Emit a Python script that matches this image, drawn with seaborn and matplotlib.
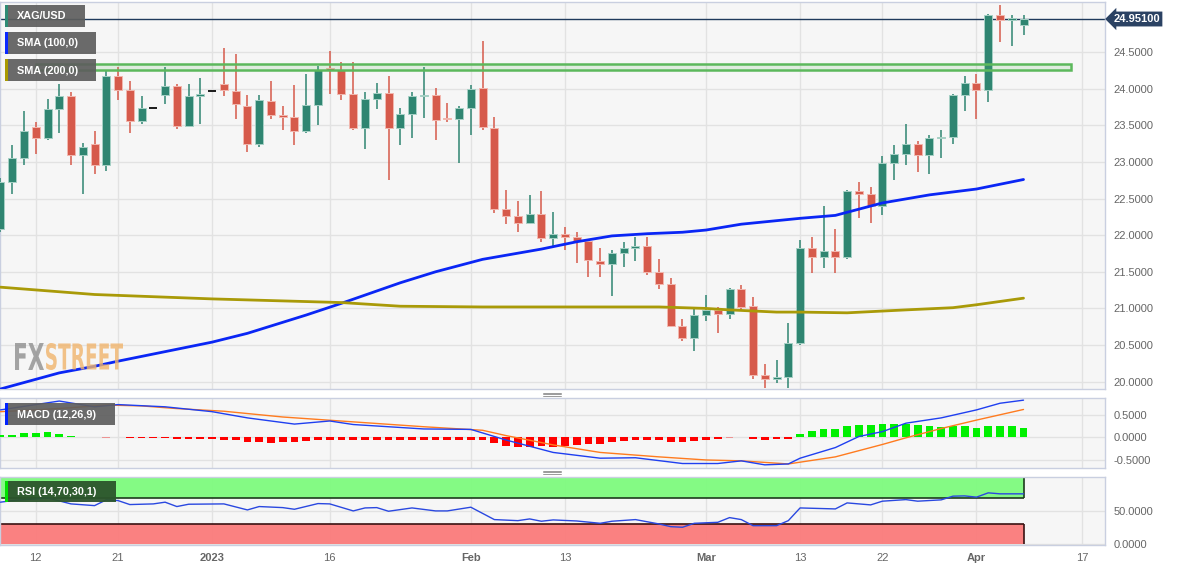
import numpy as np
import pandas as pd
import matplotlib
matplotlib.use("Agg")
import matplotlib.pyplot as plt
import seaborn as sns
from matplotlib.patches import Rectangle, PathPatch
from matplotlib.textpath import TextPath
from matplotlib.font_manager import FontProperties
from matplotlib.transforms import Affine2D, blended_transform_factory
from matplotlib.lines import Line2D

sns.set_theme(style="white")
plt.rcParams['font.family'] = ['Liberation Sans', 'DejaVu Sans']

# ---------------- data (trading-day index, 0 = Dec 12 2022) ----------------
idx = list(range(-3, 85))
opens = [22.09, 22.73, 23.05, 23.48, 23.33, 23.72, 23.90, 23.10, 23.24, 22.96,
         24.17, 23.98, 23.56, 23.73, 23.91, 24.04, 23.49, 23.90, 23.97, 24.07,
         23.97, 23.77, 23.24, 23.83, 23.64, 23.62, 23.42, 23.78, 24.28, 24.25,
         23.93, 23.46, 23.86, 23.94, 23.46, 23.66, 23.90, 23.92, 23.60, 23.58,
         23.74, 24.01, 23.46, 22.36, 22.26, 22.17, 22.29, 21.96, 22.02, 21.98,
         21.92, 21.65, 21.60, 21.76, 21.82, 21.85, 21.50, 21.34, 20.76, 20.59,
         20.91, 20.98, 20.92, 21.26, 21.03, 20.09, 20.03, 20.07, 20.53, 21.82,
         21.70, 21.78, 21.70, 22.60, 22.56, 22.40, 22.98, 23.11, 23.24, 23.09,
         23.33, 23.34, 23.92, 24.08, 23.98, 25.00, 24.94, 24.87]
highs = [22.78, 23.23, 23.69, 23.54, 23.86, 24.06, 23.95, 23.26, 23.42, 24.25,
         24.30, 24.10, 23.90, 23.73, 24.29, 24.07, 24.07, 24.15, 23.97, 24.56,
         24.47, 23.92, 23.92, 24.11, 23.77, 24.05, 24.20, 24.31, 24.52, 24.37,
         24.36, 23.95, 24.08, 24.17, 23.74, 23.95, 24.30, 24.01, 23.81, 23.76,
         24.05, 24.65, 23.61, 22.62, 22.46, 22.55, 22.60, 22.31, 22.11, 22.05,
         21.92, 21.82, 21.80, 21.91, 21.98, 21.98, 21.68, 21.41, 20.86, 21.02,
         21.18, 21.02, 21.28, 21.32, 21.15, 20.24, 20.30, 20.80, 21.93, 21.98,
         22.40, 22.09, 22.62, 22.73, 22.66, 23.08, 23.23, 23.52, 23.28, 23.37,
         23.43, 23.93, 24.17, 24.20, 25.02, 25.14, 25.01, 25.01]
lows = [22.05, 22.56, 22.96, 23.11, 23.30, 23.39, 22.96, 22.56, 22.84, 22.88,
        23.84, 23.39, 23.52, 23.73, 23.79, 23.45, 23.49, 23.52, 23.97, 23.90,
        23.59, 23.13, 23.20, 23.59, 23.43, 23.23, 23.40, 23.50, 23.93, 23.84,
        23.43, 23.17, 23.72, 22.76, 23.23, 23.33, 23.60, 23.30, 23.55, 22.98,
        23.37, 23.43, 22.30, 22.15, 22.05, 22.15, 21.91, 21.84, 21.80, 21.62,
        21.43, 21.43, 21.17, 21.56, 21.65, 21.45, 21.26, 20.75, 20.56, 20.42,
        20.83, 20.67, 20.85, 20.98, 20.03, 19.92, 19.98, 19.91, 20.50, 21.48,
        21.55, 21.48, 21.67, 22.23, 22.16, 22.28, 22.76, 22.96, 22.86, 22.83,
        23.05, 23.24, 23.70, 23.58, 23.82, 24.64, 24.58, 24.73]
closes = [22.73, 23.05, 23.42, 23.33, 23.72, 23.90, 23.10, 23.21, 22.96, 24.17,
          23.98, 23.56, 23.74, 23.73, 24.04, 23.49, 23.90, 23.93, 23.97, 23.98,
          23.79, 23.24, 23.84, 23.64, 23.62, 23.42, 23.78, 24.26, 24.26, 23.93,
          23.46, 23.86, 23.94, 23.46, 23.66, 23.90, 23.92, 23.57, 23.58, 23.74,
          24.00, 23.47, 22.36, 22.26, 22.17, 22.29, 21.96, 22.02, 21.98, 21.92,
          21.66, 21.60, 21.76, 21.82, 21.85, 21.50, 21.34, 20.76, 20.59, 20.91,
          20.98, 20.92, 21.26, 21.02, 20.09, 20.03, 20.07, 20.53, 21.82, 21.70,
          21.78, 21.70, 22.60, 22.56, 22.40, 22.98, 23.11, 23.24, 23.09, 23.33,
          23.34, 23.92, 24.08, 23.98, 25.00, 24.94, 24.97, 24.95]
last_price = 24.951

sma100_idx = [-3, 2, 5, 7, 15, 18, 23, 26, 31, 34, 38, 43, 46, 49, 52, 55, 57, 60, 65, 68, 72, 76, 80, 84]
sma100_val = [19.90, 20.12, 20.21, 20.28, 20.54, 20.66, 20.91, 21.07, 21.35, 21.50, 21.67, 21.81,
              21.91, 21.99, 22.02, 22.04, 22.07, 22.15, 22.23, 22.27, 22.44, 22.55, 22.63, 22.76]
sma200_idx = [-3, 5, 15, 26, 31, 38, 48, 53, 57, 59, 63, 65, 69, 74, 78, 80, 84]
sma200_val = [21.29, 21.19, 21.13, 21.08, 21.03, 21.02, 21.02, 21.02, 21.00, 20.98, 20.95, 20.95,
              20.94, 20.98, 21.01, 21.05, 21.14]

zone_low, zone_high = 24.26, 24.34
zone_start, zone_end = 0, 88

macd_idx = [-3, 0, 2, 5, 7, 11, 15, 18, 22, 25, 27, 33, 37, 40, 44, 48, 51, 55, 58, 60, 62, 64,
            65, 68, 70, 72, 74, 77, 80, 82, 84]
macd_val = [0.62, 0.74, 0.82, 0.69, 0.74, 0.69, 0.58, 0.44, 0.30, 0.37, 0.29, 0.19, 0.18, -0.06,
            -0.34, -0.47, -0.46, -0.59, -0.59, -0.53, -0.62, -0.60, -0.47, -0.23, 0.02, 0.13,
            0.32, 0.44, 0.62, 0.77, 0.84]
signal_idx = [-3, 0, 3, 6, 9, 12, 16, 21, 27, 33, 38, 40, 44, 48, 53, 57, 60, 64, 68, 72, 74,
              77, 80, 84]
signal_val = [0.58, 0.62, 0.67, 0.73, 0.71, 0.65, 0.59, 0.46, 0.35, 0.24, 0.16, 0.04, -0.17,
              -0.34, -0.44, -0.51, -0.53, -0.60, -0.44, -0.16, -0.01, 0.20, 0.39, 0.63]
hist_val = [0.05, 0.06, 0.09, 0.09, 0.12, 0.08, 0.04, 0.012, 0.006, -0.004,
            0.006, -0.015, -0.02, -0.02, -0.02, -0.03, -0.04, -0.04, -0.04, -0.05,
            -0.07, -0.11, -0.11, -0.12, -0.11, -0.11, -0.08, -0.06, -0.06, -0.07,
            -0.07, -0.06, -0.06, -0.07, -0.06, -0.06, -0.05, -0.06, -0.06, -0.05,
            -0.05, -0.05, -0.13, -0.19, -0.21, -0.22, -0.20, -0.21, -0.19, -0.17,
            -0.16, -0.14, -0.11, -0.08, -0.06, -0.06, -0.06, -0.10, -0.10, -0.08,
            -0.06, -0.04, -0.01, 0.01, -0.04, -0.05, -0.04, -0.03, 0.08, 0.14,
            0.18, 0.20, 0.26, 0.29, 0.28, 0.30, 0.31, 0.30, 0.27, 0.26,
            0.24, 0.25, 0.25, 0.22, 0.26, 0.26, 0.25, 0.22]

rsi_idx = [-3, -2, 0, 1, 3, 5, 6, 7, 8, 10, 11, 12, 13, 16, 18, 19, 21, 22, 24, 25, 27, 28, 29,
           30, 32, 34, 35, 37, 39, 41, 42, 43, 44, 46, 48, 49, 51, 53, 54, 55, 56, 58, 59, 60,
           61, 63, 64, 65, 68, 69, 71, 72, 74, 75, 77, 78, 79, 80, 81, 82, 84]
rsi_val = [63.2, 65.6, 68.2, 69.7, 60.6, 58.0, 66.7, 65.6, 59.6, 60.6, 63.2, 56.6, 60.1, 60.6,
           51.5, 56.6, 55.0, 52.5, 61.1, 60.6, 50.0, 54.5, 55.0, 49.5, 54.5, 50.0, 50.0, 55.6,
           36.9, 35.3, 37.9, 34.4, 36.4, 34.8, 31.3, 34.4, 36.9, 30.3, 26.2, 25.3, 31.3, 32.8,
           39.9, 36.9, 27.7, 27.7, 35.3, 54.5, 53.0, 62.1, 59.1, 64.7, 67.1, 64.7, 66.7, 72.3,
           72.7, 70.8, 77.3, 75.8, 75.8]
rsi_ob, rsi_os = 70, 30

tick_pos = [0, 7, 15, 25, 37, 45, 57, 65, 72, 80, 89]
tick_labels = ["12", "21", "2023", "16", "Feb", "13", "Mar", "13", "22", "Apr", "17"]
bold_labels = {"2023", "Feb", "Mar", "Apr"}
price_ticks = [20.0, 20.5, 21.0, 21.5, 22.0, 22.5, 23.0, 23.5, 24.0, 24.5]
macd_ticks = [-0.5, 0.0, 0.5]
rsi_ticks = [0, 50]

# ---------------- layout ----------------
W, H = 1182, 571
fig = plt.figure(figsize=(W / 100, H / 100), dpi=100, facecolor='white')


def add_ax(l, t, r, b):
    return fig.add_axes([l / W, 1 - b / H, (r - l) / W, (b - t) / H])


ax = add_ax(0, 1.5, 1105, 389)
axm = add_ax(0, 397.5, 1105, 467.5)
axr = add_ax(0, 476.5, 1105, 545)

BG, GRID, SPINE = '#f6f6f6', '#e2e2e2', '#c9cfe0'
XL = (-3.04, 90.93)
for a in (ax, axm, axr):
    a.set_facecolor(BG)
    for s in a.spines.values():
        s.set_color(SPINE)
        s.set_linewidth(1)
    a.grid(True, color=GRID, lw=1)
    a.set_axisbelow(True)
    a.yaxis.tick_right()
    a.tick_params(axis='y', length=0, pad=6, labelsize=8, labelcolor='#666666')
    a.tick_params(axis='x', length=0)

# ---------------- candles ----------------
UP, DN = '#2f8571', '#d65a4b'
for i, o, h, l, c in zip(idx, opens, highs, lows, closes):
    if c > o:
        col, ec = UP, '#a6d0c5'
    elif c < o:
        col, ec = DN, '#f2b7ae'
    else:
        col, ec = '#1a1a1a', None
    if h > l:
        ax.vlines(i, l, h, color=col, lw=1.1, zorder=3)
    if c == o:
        ax.hlines(c, i - 0.34, i + 0.34, color=col, lw=1.4, zorder=4)
    else:
        ax.bar(i, max(abs(c - o), 0.015), bottom=min(o, c), width=0.68, color=col,
               edgecolor=ec, linewidth=0.7, zorder=4)

ax.axhline(last_price, color='#1f3a5c', lw=1, zorder=2)
ax.add_patch(Rectangle((zone_start, zone_low), zone_end - zone_start, zone_high - zone_low,
                       facecolor=(0.36, 0.72, 0.36, 0.15), edgecolor='#5cb85c', lw=1.8, zorder=5))

sns.lineplot(x=sma100_idx, y=sma100_val, ax=ax, color='#0a26f5', linewidth=2.0, zorder=6, legend=False)
sns.lineplot(x=sma200_idx, y=sma200_val, ax=ax, color='#a99a08', linewidth=2.0, zorder=6, legend=False)

ax.set_xlim(*XL)
ax.set_ylim(19.90, 25.19)
ax.set_yticks(price_ticks)
ax.set_yticklabels([f"{v:.4f}" for v in price_ticks])
ax.set_xticks(tick_pos)
ax.set_xticklabels([])
ax.set_xlabel('')
ax.set_ylabel('')

tr = blended_transform_factory(ax.transAxes, ax.transData)
ax.text(1.0075, last_price, f"{last_price:.5f}", transform=tr, ha='left', va='center',
        color='white', fontsize=8, fontweight='bold', clip_on=False, zorder=20,
        bbox=dict(boxstyle='larrow,pad=0.22', fc='#2b4263', ec='none'))

# ---------------- MACD ----------------
for i, v in zip(idx, hist_val):
    col = '#00f000' if v > 0 else '#ff0000'
    alpha = 0.35 if abs(v) < 0.011 else 1.0
    axm.bar(i, v, width=0.66, color=col, alpha=alpha, zorder=3, linewidth=0)
sns.lineplot(x=signal_idx, y=signal_val, ax=axm, color='#ff7b1f', linewidth=1.0, zorder=4, legend=False)
sns.lineplot(x=macd_idx, y=macd_val, ax=axm, color='#1f3ff0', linewidth=1.0, zorder=5, legend=False)
axm.set_xlim(*XL)
axm.set_ylim(-0.68, 0.90)
axm.set_yticks(macd_ticks)
axm.set_yticklabels([f"{v:.4f}" for v in macd_ticks])
axm.set_xticks(tick_pos)
axm.set_xticklabels([])
axm.set_xlabel('')
axm.set_ylabel('')

# ---------------- RSI ----------------
band_x = [XL[0], idx[-1]]
axr.fill_between(band_x, rsi_ob, 100, color='#7efb7e', alpha=0.95, zorder=1, linewidth=0)
axr.fill_between(band_x, 0, rsi_os, color='#fb7b7b', alpha=0.95, zorder=1, linewidth=0)
axr.hlines(rsi_ob, band_x[0], band_x[1], color='#1d3a1d', lw=1.2, zorder=2)
axr.hlines(rsi_os, band_x[0], band_x[1], color='#3a1212', lw=1.2, zorder=2)
axr.vlines(band_x[1], rsi_ob, 100, color='#1d3a1d', lw=1.2, zorder=2)
axr.vlines(band_x[1], 0, rsi_os, color='#3a1212', lw=1.2, zorder=2)
sns.lineplot(x=rsi_idx, y=rsi_val, ax=axr, color='#2a48e0', linewidth=1.0, zorder=4, legend=False)
axr.set_xlim(*XL)
axr.set_ylim(-1.5, 102)
axr.set_yticks(rsi_ticks)
axr.set_yticklabels([f"{v:.4f}" for v in rsi_ticks])
axr.set_xticks(tick_pos)
axr.set_xticklabels(tick_labels)
axr.tick_params(axis='x', pad=6, labelsize=8, labelcolor='#666666')
for t in axr.get_xticklabels():
    if t.get_text() in bold_labels:
        t.set_fontweight('bold')
axr.set_xlabel('')
axr.set_ylabel('')


# ---------------- legend boxes ----------------
def label(l, t, r, b, text, accent, fc='#5e5e5e', alpha=0.92):
    fig.add_artist(Rectangle((l / W, 1 - b / H), (r - l) / W, (b - t) / H, transform=fig.transFigure,
                             fc=fc, alpha=alpha, ec='none', zorder=10))
    fig.add_artist(Rectangle((l / W, 1 - b / H), 2.6 / W, (b - t) / H, transform=fig.transFigure,
                             fc=accent, ec='none', zorder=11))
    fig.text((l + 12) / W, 1 - ((t + b) / 2 + 0.5) / H, text, color='white', fontsize=7.8,
             fontweight='bold', va='center', ha='left', zorder=12)


label(5, 5, 85, 26.7, "XAG/USD", '#2e8b74')
label(5, 32, 96, 54, "SMA (100,0)", '#0a28ff')
label(5, 59, 96, 81, "SMA (200,0)", '#a99a00')
label(5, 403.3, 115, 425, "MACD (12,26,9)", '#0022ff')
label(5, 480.7, 116, 502.3, "RSI (14,70,30,1)", '#00e000', fc='#2c552c', alpha=0.95)

# ---------------- watermark ----------------
fp = FontProperties(family='DejaVu Sans', weight='bold')


def watermark(text, x0, x1, ybase, height, color, alpha):
    tp = TextPath((0, 0), text, size=1, prop=fp)
    ext = tp.get_extents()
    sx = (x1 - x0) / ext.width
    sy = height / ext.height
    trf = Affine2D().translate(-ext.x0, -ext.y0).scale(sx, sy).translate(x0, H - ybase)
    fig.add_artist(PathPatch(tp, transform=trf, fc=color, ec='none', alpha=alpha, zorder=1.5))


watermark("FX", 15, 44, 370, 27, '#8e8e8e', 0.8)
watermark("STREET", 46, 123, 370, 27, '#f0b46c', 0.8)

# ---------------- panel handles ----------------
for yy in (392.5, 470.5):
    for k in range(3):
        fig.add_artist(Line2D([543 / W, 561 / W], [1 - (yy + k * 1.7) / H] * 2,
                              color='#8a8a8a', lw=0.6, zorder=12))

fig.savefig("out.png", dpi=100, facecolor='white')
